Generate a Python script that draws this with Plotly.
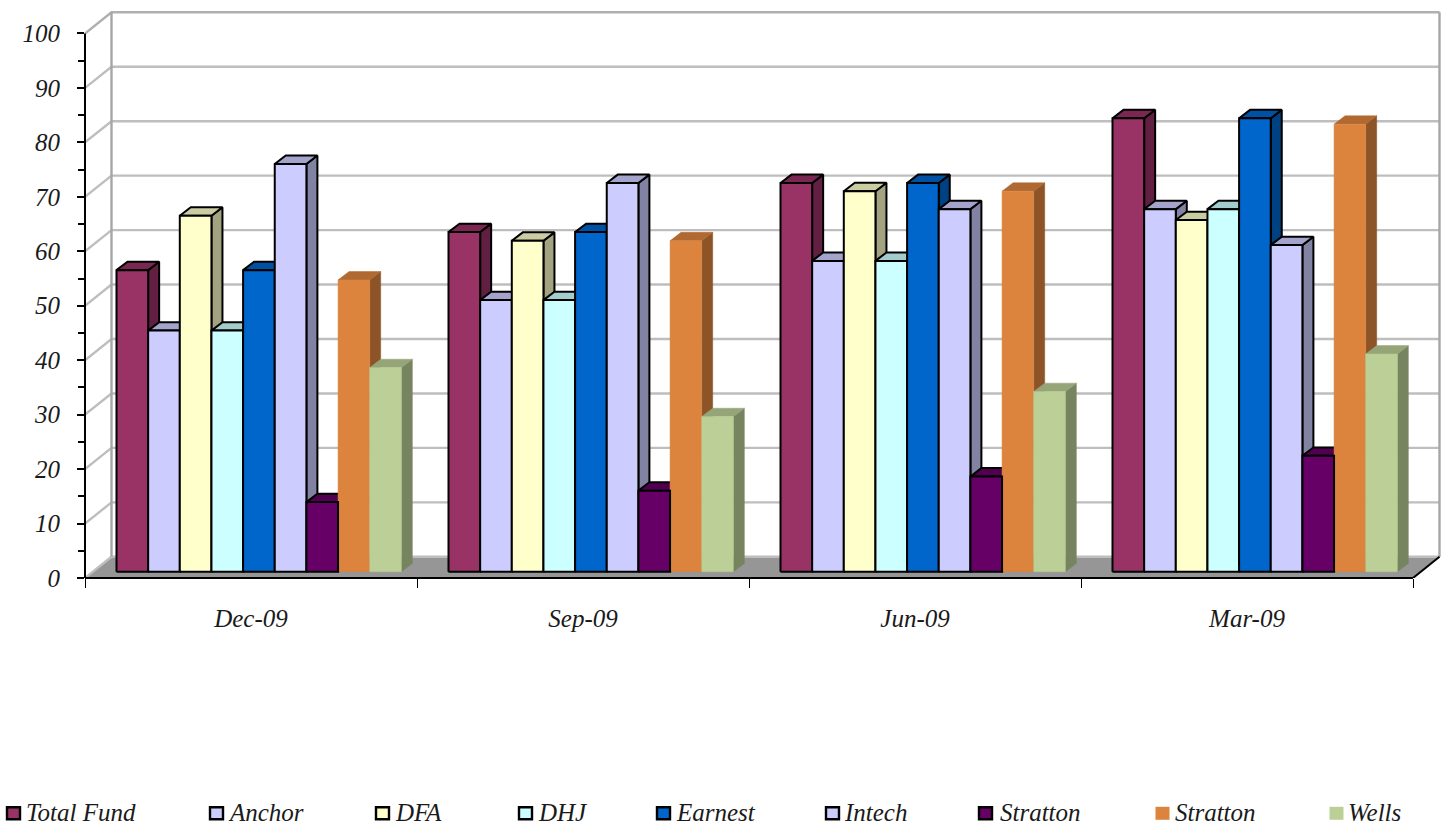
import plotly.graph_objects as go

# Reporting periods and fund series
periods = ["Dec-09", "Sep-09", "Jun-09", "Mar-09"]
series_names = ["Total Fund", "Anchor", "DFA", "DHJ", "Earnest", "Intech", "Stratton", "Stratton", "Wells"]

total_fund = [55.4, 62.4, 71.4, 83.3]
anchor = [44.3, 49.9, 57.1, 66.6]
dfa = [65.4, 60.8, 69.9, 64.6]
dhj = [44.3, 49.9, 57.1, 66.6]
earnest = [55.4, 62.4, 71.4, 83.3]
intech = [74.9, 71.4, 66.6, 60.0]
stratton_a = [12.8, 14.9, 17.5, 21.3]
stratton_b = [53.6, 60.8, 69.9, 82.2]
wells = [37.5, 28.5, 33.1, 40.0]
series_values = [total_fund, anchor, dfa, dhj, earnest, intech, stratton_a, stratton_b, wells]

colors = ["#993366", "#CCCCFF", "#FFFFCC", "#CCFFFF", "#0066CC", "#CCCCFF", "#660066", "#DC843E", "#BBCF96"]
outlined = [True, True, True, True, True, True, True, False, False]

# Page layout, in pixels
W, H = 1448, 833
LEFT, RIGHT, TOP, BOTTOM = 85, 1413, 33.5, 578.5
PLOT_R, PLOT_T = 1446, 8
PX_X = (RIGHT - LEFT) / len(periods)   # pixels per period
PX_Y = (BOTTOM - TOP) / 100            # pixels per value unit


def ux(px):
    return px / PX_X


def uy(px):
    return px / PX_Y


# Oblique projection offsets, expressed in axis units
WALL_DX, WALL_DY = ux(26.5), uy(21.2)
FLOOR_DY = uy(6.2)
BAR_DX, BAR_DY = ux(11.0), uy(8.4)
BAR_W = ux(31.65)
BARS_START = ux(116.5 - LEFT)


def shade(hex_color, factor):
    r, g, b = (int(hex_color[i:i + 2], 16) for i in (1, 3, 5))
    return f"rgb({int(r * factor)},{int(g * factor)},{int(b * factor)})"


def polygon_trace(xs, ys, fill, line_color, line_width):
    return go.Scatter(
        x=xs, y=ys, mode="lines", fill="toself", fillcolor=fill,
        line=dict(color=line_color, width=line_width),
        showlegend=False, hoverinfo="skip",
    )


def line_trace(xs, ys, color, width):
    return go.Scatter(
        x=xs, y=ys, mode="lines", line=dict(color=color, width=width),
        showlegend=False, hoverinfo="skip",
    )


def bar_faces(s):
    """Front, side and top outlines of one series across all periods."""
    fx, fy, sx, sy, tx, ty = [], [], [], [], [], []
    for g, v in enumerate(series_values[s]):
        x0 = g + BARS_START + s * BAR_W
        x1 = x0 + BAR_W
        base = FLOOR_DY
        top = v + FLOOR_DY
        fx += [x0, x1, x1, x0, x0, None]
        fy += [base, base, top, top, base, None]
        sx += [x1, x1 + BAR_DX, x1 + BAR_DX, x1, x1, None]
        sy += [base, base + BAR_DY, top + BAR_DY, top, base, None]
        tx += [x0, x1, x1 + BAR_DX, x0 + BAR_DX, x0, None]
        ty += [top, top, top + BAR_DY, top + BAR_DY, top, None]
    return (fx, fy), (sx, sy), (tx, ty)


fig = go.Figure()

# Floor
n = len(periods)
fig.add_trace(polygon_trace([0, n, n + WALL_DX, WALL_DX, 0], [0, 0, WALL_DY, WALL_DY, 0], "#969696", "#969696", 0.5))

# Wall gridlines: the side-wall diagonal plus the back-wall run
for tick in range(0, 101, 10):
    top_edge = tick == 100
    fig.add_trace(line_trace(
        [0, WALL_DX, n + WALL_DX], [tick, tick + WALL_DY, tick + WALL_DY],
        "#B0B0B0" if top_edge else "#BEBEBE", 2.4,
    ))
fig.add_trace(line_trace([WALL_DX, WALL_DX], [WALL_DY, 100 + WALL_DY], "#A6A6A6", 2.4))
fig.add_trace(line_trace([n + WALL_DX, n + WALL_DX], [WALL_DY, 100 + WALL_DY], "#A6A6A6", 2.4))
fig.add_trace(line_trace([n, n + WALL_DX], [0, WALL_DY], "#000000", 2))

# Bars, painted left to right so each front face covers its neighbour's side face.
# The outlined purple front goes after the borderless orange one to keep its right edge.
deferred = None
for s, (color, has_outline) in enumerate(zip(colors, outlined)):
    edge = "#000000" if has_outline else None
    width = 2 if has_outline else 0.5
    front, side_face, cap_face = bar_faces(s)
    side, cap = shade(color, 0.64), shade(color, 0.8)
    fig.add_trace(polygon_trace(*side_face, side, edge or side, width))
    fig.add_trace(polygon_trace(*cap_face, cap, edge or cap, width))
    front_trace = polygon_trace(*front, color, edge or color, width)
    if s == 6:
        deferred = front_trace
        continue
    fig.add_trace(front_trace)
    if s == 7:
        fig.add_trace(deferred)

text_font = dict(family="Liberation Serif", size=25, color="#1a1a1a", style="italic")

# Legend row: swatch and label for every series
swatch_left = [6, 209, 375, 518, 656, 825, 978, 1155, 1329]
label_left = [24, 226, 393, 536, 674, 842, 998, 1173, 1346]
LEGEND_Y = 814


def paper_x(px):
    return (px - LEFT) / (PLOT_R - LEFT)


def paper_y(py):
    return (BOTTOM - py) / (BOTTOM - PLOT_T)


# Axis lines stop at the front plane, short of the plot area's far edges
shapes = [
    dict(type="line", xref="paper", yref="paper", layer="above",
         x0=0, x1=paper_x(RIGHT), y0=0, y1=0, line=dict(color="#000000", width=2)),
    dict(type="line", xref="paper", yref="paper", layer="above",
         x0=0, x1=0, y0=0, y1=paper_y(TOP), line=dict(color="#000000", width=2)),
]
annotations = []
for name, color, has_outline, sx0, lx0 in zip(series_names, colors, outlined, swatch_left, label_left):
    inset = 1 if has_outline else 0.5
    shapes.append(dict(
        type="rect", xref="paper", yref="paper",
        x0=paper_x(sx0 + inset), x1=paper_x(sx0 + 15 - inset),
        y0=paper_y(LEGEND_Y + 7 - inset), y1=paper_y(LEGEND_Y - 7 + inset),
        fillcolor=color,
        line=dict(color="#000000", width=2.4) if has_outline else dict(width=0),
    ))
    annotations.append(dict(
        xref="paper", yref="paper", x=paper_x(lx0), y=paper_y(LEGEND_Y - 1),
        text=name, showarrow=False, xanchor="left", yanchor="middle", font=text_font,
    ))

fig.update_layout(
    width=W, height=H, autosize=False,
    margin=dict(l=LEFT, r=W - PLOT_R, t=PLOT_T, b=H - BOTTOM, pad=0),
    paper_bgcolor="#FFFFFF", plot_bgcolor="#FFFFFF",
    showlegend=False, shapes=shapes, annotations=annotations,
    xaxis=dict(
        range=[0, ux(PLOT_R - LEFT)], showgrid=False, zeroline=False, automargin=False,
        showline=False,
        tickmode="array", tickvals=[i + 0.5 for i in range(n)], ticktext=periods,
        ticks="", ticklabelstandoff=23, tickfont=text_font,
        minor=dict(tickmode="array", tickvals=list(range(n + 1)), ticks="outside",
                   ticklen=9, tickwidth=1, tickcolor="#000000"),
    ),
    yaxis=dict(
        range=[0, uy(BOTTOM - PLOT_T)], showgrid=False, zeroline=False, automargin=False,
        showline=False,
        tickmode="array", tickvals=list(range(0, 101, 10)),
        ticks="outside", ticklen=7, tickwidth=1.5, tickcolor="#000000",
        ticklabelstandoff=12, tickfont=text_font,
        minor=dict(tickmode="array", tickvals=list(range(5, 100, 10)), ticks="outside",
                   ticklen=6, tickwidth=1.5, tickcolor="#000000"),
    ),
)

fig.write_html("out.html")
